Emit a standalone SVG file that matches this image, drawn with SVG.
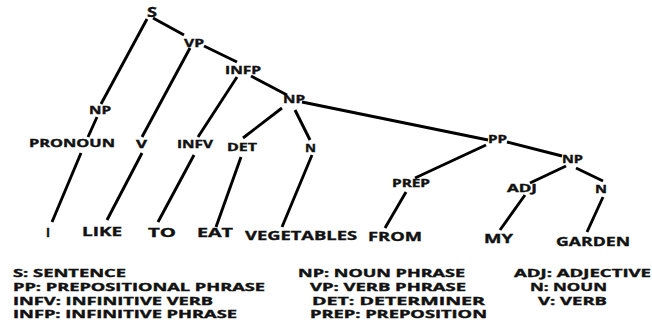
<svg xmlns="http://www.w3.org/2000/svg" width="652" height="320" viewBox="0 0 652 320">
<style>
text{font-family:"Open Sans","Liberation Sans",sans-serif;font-weight:700;fill:#111;stroke:#111;stroke-width:0.35}
.n{font-size:10px}
.w{font-size:12.5px}
.s{font-size:13.5px}
.l{font-size:10px}
#edges line{stroke:#000;stroke-width:2.9;stroke-linecap:butt}
</style>
<rect width="652" height="320" fill="#fff"/>
<g id="edges">
<line x1="147" y1="19" x2="101" y2="104"/>
<line x1="97" y1="117" x2="88" y2="137"/>
<line x1="153" y1="18" x2="184" y2="35"/>
<line x1="204" y1="46" x2="237" y2="62"/>
<line x1="251" y1="76" x2="287" y2="95"/>
<line x1="190" y1="48" x2="142" y2="137"/>
<line x1="237" y1="77" x2="198" y2="137"/>
<line x1="282" y1="108" x2="243" y2="138"/>
<line x1="295" y1="110" x2="310" y2="140"/>
<line x1="302" y1="102" x2="488" y2="140"/>
<line x1="507" y1="142" x2="562" y2="156"/>
<line x1="486" y1="145" x2="415" y2="178"/>
<line x1="566" y1="166" x2="530" y2="183"/>
<line x1="576" y1="168" x2="603" y2="181"/>
<line x1="81" y1="153" x2="52" y2="222"/>
<line x1="142" y1="153" x2="107" y2="220"/>
<line x1="194" y1="155" x2="158" y2="222"/>
<line x1="241" y1="157" x2="216" y2="227"/>
<line x1="312" y1="155" x2="282" y2="227"/>
<line x1="406" y1="192" x2="385" y2="228"/>
<line x1="525" y1="195" x2="500" y2="230"/>
<line x1="603" y1="197" x2="587" y2="232"/>
</g>
<g id="node-S"><text class="s" x="147" y="17" textLength="10" lengthAdjust="spacingAndGlyphs">S</text></g>
<g id="node-VP"><text class="n" x="184" y="47" textLength="20" lengthAdjust="spacingAndGlyphs">VP</text></g>
<g id="node-INFP"><text class="n" x="225" y="74" textLength="36" lengthAdjust="spacingAndGlyphs">INFP</text></g>
<g id="node-NP2"><text class="n" x="283" y="103" textLength="22" lengthAdjust="spacingAndGlyphs">NP</text></g>
<g id="node-NP1"><text class="n" x="89" y="114" textLength="22" lengthAdjust="spacingAndGlyphs">NP</text></g>
<g id="node-PRONOUN"><text class="n" x="29" y="147" textLength="86" lengthAdjust="spacingAndGlyphs">PRONOUN</text></g>
<g id="node-V"><text class="n" x="136" y="148" textLength="11" lengthAdjust="spacingAndGlyphs">V</text></g>
<g id="node-INFV"><text class="n" x="177" y="148" textLength="36" lengthAdjust="spacingAndGlyphs">INFV</text></g>
<g id="node-DET"><text class="n" x="227" y="151" textLength="30" lengthAdjust="spacingAndGlyphs">DET</text></g>
<g id="node-N1"><text class="n" x="305" y="152" textLength="11" lengthAdjust="spacingAndGlyphs">N</text></g>
<g id="node-PP"><text class="n" x="488" y="143" textLength="19" lengthAdjust="spacingAndGlyphs">PP</text></g>
<g id="node-NP3"><text class="n" x="562" y="163" textLength="21" lengthAdjust="spacingAndGlyphs">NP</text></g>
<g id="node-PREP"><text class="n" x="392" y="187" textLength="38" lengthAdjust="spacingAndGlyphs">PREP</text></g>
<g id="node-ADJ"><text class="n" x="507" y="192" textLength="30" lengthAdjust="spacingAndGlyphs">ADJ</text></g>
<g id="node-N2"><text class="n" x="595" y="193" textLength="12" lengthAdjust="spacingAndGlyphs">N</text></g>
<g id="word-I"><text class="w" x="46" y="237" textLength="4" lengthAdjust="spacingAndGlyphs">I</text></g>
<g id="word-LIKE"><text class="w" x="82" y="236" textLength="40" lengthAdjust="spacingAndGlyphs">LIKE</text></g>
<g id="word-TO"><text class="w" x="148" y="237" textLength="28" lengthAdjust="spacingAndGlyphs">TO</text></g>
<g id="word-EAT"><text class="w" x="197" y="237" textLength="36" lengthAdjust="spacingAndGlyphs">EAT</text></g>
<g id="word-VEGETABLES"><text class="w" x="245" y="240" textLength="112" lengthAdjust="spacingAndGlyphs">VEGETABLES</text></g>
<g id="word-FROM"><text class="w" x="368" y="241" textLength="54" lengthAdjust="spacingAndGlyphs">FROM</text></g>
<g id="word-MY"><text class="w" x="484" y="243" textLength="29" lengthAdjust="spacingAndGlyphs">MY</text></g>
<g id="word-GARDEN"><text class="w" x="556" y="246" textLength="74" lengthAdjust="spacingAndGlyphs">GARDEN</text></g>
<g id="legend">
<text class="l" x="13" y="277" textLength="113" lengthAdjust="spacingAndGlyphs">S: SENTENCE</text>
<text class="l" x="13" y="291" textLength="252" lengthAdjust="spacingAndGlyphs">PP: PREPOSITIONAL PHRASE</text>
<text class="l" x="13" y="304.5" textLength="200" lengthAdjust="spacingAndGlyphs">INFV: INFINITIVE VERB</text>
<text class="l" x="13" y="317.5" textLength="224" lengthAdjust="spacingAndGlyphs">INFP: INFINITIVE PHRASE</text>
<text class="l" x="298" y="277" textLength="167" lengthAdjust="spacingAndGlyphs">NP: NOUN PHRASE</text>
<text class="l" x="310" y="291" textLength="156" lengthAdjust="spacingAndGlyphs">VP: VERB PHRASE</text>
<text class="l" x="312" y="304.5" textLength="173" lengthAdjust="spacingAndGlyphs">DET: DETERMINER</text>
<text class="l" x="310" y="317.5" textLength="177" lengthAdjust="spacingAndGlyphs">PREP: PREPOSITION</text>
<text class="l" x="514" y="277" textLength="137" lengthAdjust="spacingAndGlyphs">ADJ: ADJECTIVE</text>
<text class="l" x="530" y="291" textLength="77" lengthAdjust="spacingAndGlyphs">N: NOUN</text>
<text class="l" x="538" y="304.5" textLength="69" lengthAdjust="spacingAndGlyphs">V: VERB</text>
</g>
</svg>
